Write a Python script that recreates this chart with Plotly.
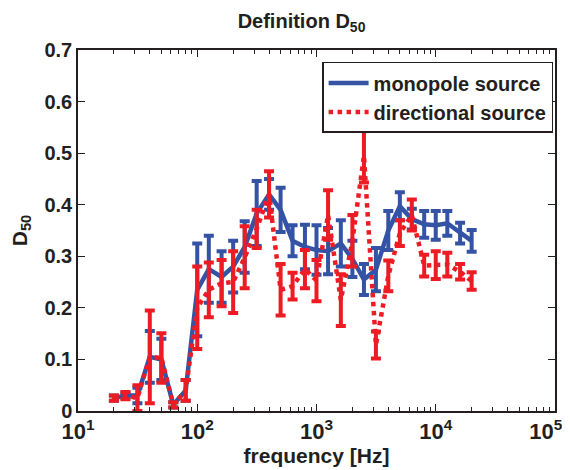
import plotly.graph_objects as go

freqs = [20, 25, 31.5, 40, 50, 63, 80, 100, 125, 160, 200, 250, 315, 400, 500, 630,
         800, 1000, 1250, 1600, 2000, 2500, 3150, 4000, 5000, 6300, 8000, 10000,
         12500, 16000, 20000]

mono_mean = [0.025, 0.03, 0.03, 0.105, 0.10, 0.012, 0.04, 0.235, 0.275, 0.26, 0.28,
             0.318, 0.383, 0.42, 0.39, 0.33, 0.318, 0.312, 0.31, 0.325, 0.295, 0.255,
             0.274, 0.35, 0.397, 0.372, 0.362, 0.36, 0.364, 0.345, 0.33]
mono_err = [0.005, 0.005, 0.015, 0.05, 0.04, 0.005, 0.02, 0.09, 0.065, 0.05, 0.05,
            0.05, 0.063, 0.03, 0.043, 0.03, 0.043, 0.048, 0.045, 0.045, 0.035, 0.03,
            0.042, 0.038, 0.027, 0.02, 0.026, 0.028, 0.024, 0.02, 0.021]

dir_mean = [0.025, 0.03, 0.025, 0.105, 0.103, 0.012, 0.04, 0.20, 0.235, 0.248, 0.25,
            0.298, 0.353, 0.42, 0.235, 0.242, 0.275, 0.253, 0.38, 0.215, 0.33, 0.495,
            0.128, 0.262, 0.345, 0.38, 0.282, 0.283, 0.284, 0.27, 0.252]
dir_err = [0.005, 0.007, 0.025, 0.09, 0.048, 0.005, 0.02, 0.08, 0.053, 0.045, 0.06,
           0.06, 0.037, 0.045, 0.05, 0.026, 0.037, 0.04, 0.048, 0.05, 0.05, 0.052,
           0.026, 0.03, 0.025, 0.03, 0.021, 0.027, 0.023, 0.015, 0.017]

x_tickvals = [10, 100, 1000, 10000, 100000]
x_ticktext = ["10<sup>1</sup>", "10<sup>2</sup>", "10<sup>3</sup>",
              "10<sup>4</sup>", "10<sup>5</sup>\u00a0\u00a0\u00a0"]
y_tickvals = [0, 0.1, 0.2, 0.3, 0.4, 0.5, 0.6, 0.7]
y_ticktext = ["0", "0.1", "0.2", "0.3", "0.4", "0.5", "0.6", "0.7"]

BLUE = "#3453a4"
RED = "#ed1c24"
INK = "#231f20"
FONT = "Liberation Sans, Arial, sans-serif"

fig = go.Figure()
fig.add_trace(go.Scatter(
    x=freqs, y=mono_mean, mode="lines", name="monopole source",
    line=dict(color=BLUE, width=4.5),
    error_y=dict(type="data", array=mono_err, color=BLUE, thickness=4, width=5),
))
fig.add_trace(go.Scatter(
    x=freqs, y=dir_mean, mode="lines", name="directional source",
    line=dict(color=RED, width=4.5, dash="dot"),
    error_y=dict(type="data", array=dir_err, color=RED, thickness=4, width=5),
))

minor_vals = [m * 10 ** d for d in range(1, 5) for m in range(2, 10)]

fig.update_layout(
    width=570, height=470,
    margin=dict(l=70, r=23, t=42, b=67),
    paper_bgcolor="white", plot_bgcolor="white",
    font=dict(family=FONT, size=20, color=INK, weight=700),
    title=dict(text="Definition D<sub>50</sub>", x=0.515, xanchor="center",
               y=0.988, yanchor="top", font=dict(size=20, weight=700)),
    showlegend=True,
    legend=dict(x=0.996, y=0.967, xanchor="right", yanchor="top",
                bordercolor=INK, borderwidth=1.5, bgcolor="white",
                font=dict(size=20, weight=700), tracegroupgap=0,
                itemwidth=40),
    xaxis=dict(type="log", range=[1, 5], automargin=False,
               tickvals=x_tickvals, ticktext=x_ticktext,
               ticklabeloverflow="allow",
               ticks="inside", ticklen=7, tickcolor=INK,
               minor=dict(tickvals=minor_vals, ticks="inside", ticklen=4,
                          tickcolor=INK),
               showline=True, linecolor=INK, linewidth=1.5, mirror="ticks",
               showgrid=False, zeroline=False,
               title=dict(text="frequency [Hz]", standoff=0,
                          font=dict(size=21, weight=700)),
               tickfont=dict(size=22, weight=700)),
    yaxis=dict(range=[0, 0.7], automargin=False,
               tickvals=y_tickvals, ticktext=y_ticktext,
               ticks="inside", ticklen=7, tickcolor=INK,
               showline=True, linecolor=INK, linewidth=1.5, mirror="ticks",
               showgrid=False, zeroline=False,
               title=dict(text="D<sub>50</sub>", standoff=14,
                          font=dict(size=21, weight=700)),
               tickfont=dict(size=20, weight=700)),
)

fig.write_html("out.html")
